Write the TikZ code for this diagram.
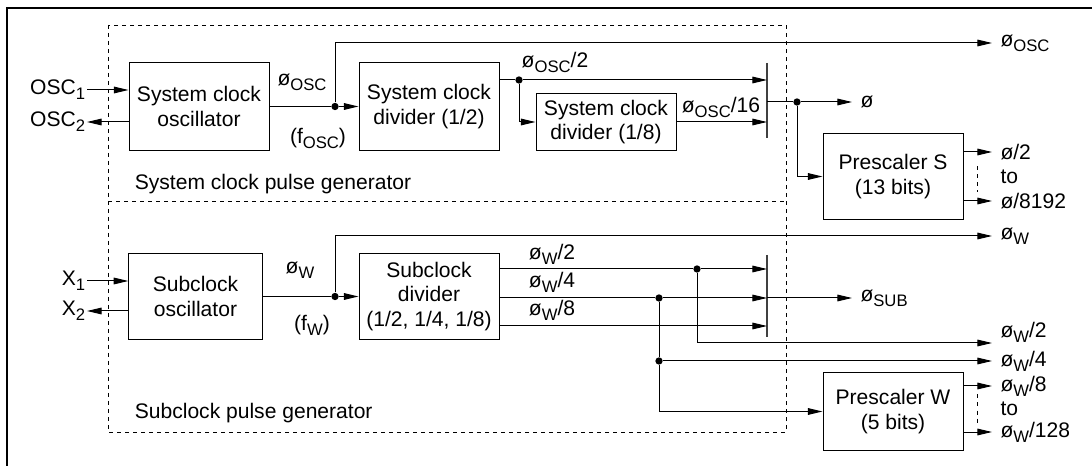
\documentclass[tikz,border=0pt]{standalone}
\usepackage{fontspec}
\setmainfont{Liberation Sans}
\usepackage{tikz}
\usetikzlibrary{positioning}
\usetikzlibrary{calc}
\usetikzlibrary{arrows.meta}

\newcommand{\lo}[1]{\raisebox{-0.45ex}{\fontsize{12.5}{14}\selectfont #1}}

\begin{document}
\begin{tikzpicture}[x=0.75pt, y=-0.75pt, line width=0.75pt, >={Triangle[length=11pt, width=5pt]},
  font=\fontsize{15.8}{18.5}\selectfont,
  blk/.style={draw, align=center, minimum width=105pt, inner sep=0pt},
  lbl/.style={inner sep=1pt},
  outl/.style={anchor=west, inner ysep=1pt, inner xsep=6pt},
  dot/.style={circle, fill, inner sep=0pt, minimum size=5.5pt},
  grp/.style={draw, dash pattern=on 3pt off 3pt, line width=0.5pt},
  bar/.style={line width=1.1pt, draw=black!75}]

\useasboundingbox (0,0) rectangle (1092,466);
\draw[line width=1.2pt] (7,466) -- (7,8) -- (1092,8);

\draw[grp] (108,25) rectangle (786,432);
\draw[grp] (108,201) -- (786,201);
\node[lbl, anchor=west] (gs) at (133,184) {System clock pulse generator};
\node[lbl, anchor=west] (gw) at (133,413) {Subclock pulse generator};

\node[blk, minimum height=66pt] (osc) at (199,106.5) {System clock\\oscillator};
\node[blk, minimum height=66pt] (div) at (429,106.5) {System clock\\divider (1/2)};
\node[blk, minimum height=43pt] (div8) at (606,122) {System clock\\divider (1/8)};
\node[blk, minimum height=65pt] (pss) at (893,176.5) {Prescaler S\\(13 bits)};
\node[blk, minimum width=100pt, minimum height=65pt] (sub) at (195.5,296.5) {Subclock\\oscillator};
\node[blk, minimum height=65pt] (subdiv) at (429,296.5) {Subclock\\divider\\(1/2, 1/4, 1/8)};
\node[blk, minimum height=59pt] (psw) at (893,411.5) {Prescaler W\\(5 bits)};

\node[lbl, anchor=east] (osc1) at (87,90) {OSC\lo{1}};
\node[lbl, anchor=east] (osc2) at (87,122) {OSC\lo{2}};
\node[lbl, anchor=east] (x1) at (87,281) {X\lo{1}};
\node[lbl, anchor=east] (x2) at (87,311) {X\lo{2}};
\draw[->] (osc1.east) -- (osc.west |- osc1.east);
\draw[->] (osc.west |- osc2.east) -- (osc2.east);
\draw[->] (x1.east) -- (sub.west |- x1.east);
\draw[->] (sub.west |- x2.east) -- (x2.east);

\node[dot] (jo) at (335,106.5) {};
\node[lbl] (fo) at (302,82) {ø\lo{OSC}};
\node[lbl] (fosc) at (318,138) {(f\lo{OSC})};
\node[outl] (oosc) at (992,43) {ø\lo{OSC}};
\draw (osc.east) -- (jo);
\draw[->] (jo) -- (div.west);
\draw[->] (jo) |- (oosc.west);

\coordinate (mst) at (767,63);
\coordinate (msb) at (767,138);
\coordinate (ms) at (767,102);
\draw[bar] (mst) -- (msb);
\node[dot] (j2) at (519,80) {};
\node[lbl] (o2) at (555,62) {ø\lo{OSC}/2};
\node[lbl] (o16) at (721,107) {ø\lo{OSC}/16};
\draw (div.east |- j2) -- (j2);
\draw[->] (j2) -- (j2 -| ms);
\draw[->] (j2) |- (div8.west);
\draw[->] (div8.east) -- (div8.east -| ms);

\node[dot] (jp) at (797,102) {};
\node[outl] (phi) at (852,102) {ø};
\draw (ms) -- (jp);
\draw[->] (jp) -- (phi.west);
\draw[->] (jp) |- (pss.west);
\node[outl] (ps2) at (992,152) {ø/2};
\node[outl] (psto) at (992,177) {to};
\node[outl] (ps8192) at (992,201) {ø/8192};
\draw[->] (pss.east |- ps2.west) -- (ps2.west);
\draw[->] (pss.east |- ps8192.west) -- (ps8192.west);
\draw[grp] ($(pss.east)+(14,-10)$) -- ($(pss.east)+(14,16)$);

\node[dot] (jw) at (335,296.5) {};
\node[lbl] (fw0) at (300,270) {ø\lo{W}};
\node[lbl] (fw) at (312,325) {(f\lo{W})};
\node[outl] (ow) at (992,236) {ø\lo{W}};
\draw (sub.east) -- (jw);
\draw[->] (jw) -- (subdiv.west);
\draw[->] (jw) |- (ow.west);

\coordinate (mwt) at (767,255);
\coordinate (mwb) at (767,337);
\coordinate (mw) at (767,298);
\draw[bar] (mwt) -- (mwb);
\node[dot] (jw2) at (697,269) {};
\node[dot] (jw4) at (659,298) {};
\coordinate (d8) at (499,326);
\node[lbl] (l2) at (552,254) {ø\lo{W}/2};
\node[lbl] (l4) at (552,282) {ø\lo{W}/4};
\node[lbl] (l8) at (552,310) {ø\lo{W}/8};
\draw (subdiv.east |- jw2) -- (jw2);
\draw[->] (jw2) -- (jw2 -| mw);
\draw (subdiv.east |- jw4) -- (jw4);
\draw[->] (jw4) -- (jw4 -| mw);
\draw[->] (d8) -- (d8 -| mw);
\node[outl] (osub) at (852,298) {ø\lo{SUB}};
\draw[->] (mw) -- (osub.west);

\coordinate (ew2) at (992,343);
\node[outl] (ow2) at (992,332) {ø\lo{W}/2};
\draw[->] (jw2) |- (ew2);
\node[dot] (jw4b) at (659,361) {};
\node[outl] (ow4) at (992,361) {ø\lo{W}/4};
\draw (jw4) -- (jw4b);
\draw[->] (jw4b) -- (ow4.west);
\draw[->] (jw4b) |- (psw.west);
\node[outl] (ow8) at (992,386) {ø\lo{W}/8};
\node[outl] (owto) at (992,409) {to};
\node[outl] (ow128) at (992,432) {ø\lo{W}/128};
\draw[->] (psw.east |- ow8.west) -- (ow8.west);
\draw[->] (psw.east |- ow128.west) -- (ow128.west);
\draw[grp] ($(psw.east)+(14,-17)$) -- ($(psw.east)+(14,12)$);

\end{tikzpicture}
\end{document}
